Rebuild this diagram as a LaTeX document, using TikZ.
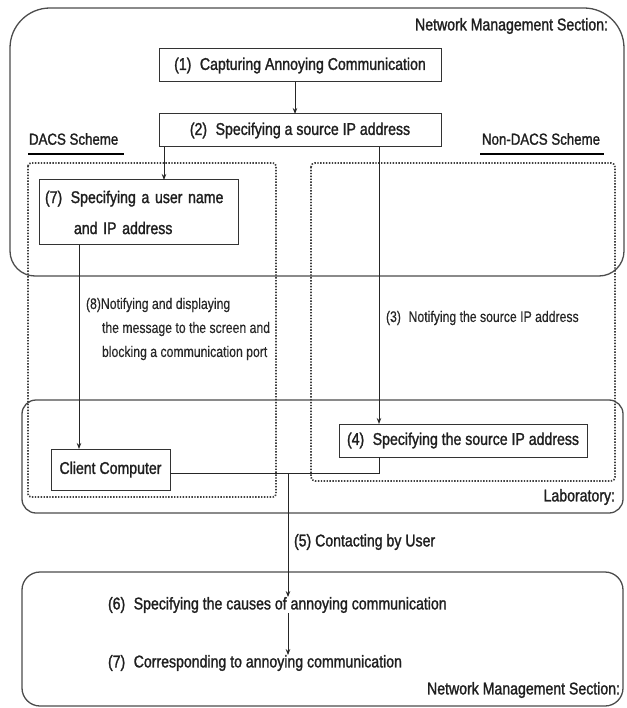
\documentclass[tikz,border=0pt]{standalone}
\usepackage{fontspec}
\setmainfont{Liberation Sans}
\newfontfamily\mainf[FakeStretch=0.83,FakeBold=1.4]{Liberation Sans}
\newfontfamily\labf[FakeStretch=0.80,FakeBold=0.4]{Liberation Sans}
\usetikzlibrary{arrows.meta}

\begin{document}
\begin{tikzpicture}[x=1pt,y=-1pt,
  every node/.style={inner sep=0pt, outer sep=0pt},
  txt/.style={font=\mainf\fontsize{17}{20}\selectfont, text=black!88},
  lab/.style={font=\labf\fontsize{15.3}{18}\selectfont, text=black!85},
  stepbox/.style={draw=black!80, line width=1pt, fill=white, txt},
  frame/.style={draw=black!70, line width=1.3pt},
  dotbox/.style={draw=black!75, line width=1.7pt, dash pattern=on 1.4pt off 1.5pt},
  conn/.style={draw=black!85, line width=0.9pt},
  arr/.style={conn, -{Stealth[length=6pt,width=4.5pt]}},
  uline/.style={draw=black, line width=2.4pt}]

\useasboundingbox (0,0) rectangle (626,708);

% section frames
\draw[frame] (10,140) [rounded corners=40pt] -- (10,8) -- (624,8) -- (624,140)
  [rounded corners=25pt] -- (624,276) -- (10,276) -- cycle;
\draw[frame, rounded corners=14pt] (22,400) rectangle (623,513);
\draw[frame, rounded corners=18pt] (22,572) rectangle (623,706);

% scheme areas
\draw[dotbox, rounded corners=3pt] (28,163) rectangle (276,497);
\draw[dotbox, rounded corners=4pt] (311,163) rectangle (615,481);

% headings
\node[txt, anchor=east] (nmstop) at (608,26) {Network Management Section:};
\node[txt, font=\mainf\fontsize{16}{18}\selectfont, anchor=west] (dacs) at (29,139) {DACS Scheme};
\node[txt, font=\mainf\fontsize{16}{18}\selectfont, anchor=west] (ndacs) at (482,139) {Non-DACS Scheme};
\draw[uline] (28,154) -- (124,154);
\draw[uline] (480,154) -- (604,154);
\node[txt, anchor=east] (labname) at (615,497) {Laboratory:};
\node[txt, anchor=east] (nmsbot) at (620,690) {Network Management Section:};

% steps
\node[stepbox, minimum width=282pt, minimum height=33pt] (cap) at (300,65.5)
  {(1)\enspace Capturing Annoying Communication};
\node[stepbox, minimum width=282pt, minimum height=33pt] (src) at (300,130.5)
  {(2)\enspace Specifying a source IP address};
\node[stepbox, anchor=north west, minimum width=199pt, minimum height=65pt,
  align=left, inner xsep=6pt, text width=187pt,
  font=\mainf\fontsize{17}{31}\selectfont] (user) at (39,180)
  {(7)\enspace Specifying a user name\\\hspace*{29pt}and IP address};
\node[stepbox, minimum width=119pt, minimum height=41pt] (client) at (110.5,469.5)
  {Client Computer};
\node[stepbox, minimum width=248pt, minimum height=33pt] (spec) at (463,440.5)
  {(4)\enspace Specifying the source IP address};
\node[txt, anchor=west] (contact) at (294,542) {(5) Contacting by User};
\node[txt, anchor=west] (cause) at (108,605)
  {(6)\enspace Specifying the causes of annoying communication};
\node[txt, anchor=west] (corr) at (108,663)
  {(7)\enspace Corresponding to annoying communication};

% connector labels
\node[lab, anchor=west] (l8a) at (86,305) {(8)Notifying and displaying};
\node[lab, anchor=west] (l8b) at (102,329) {the message to the screen and};
\node[lab, anchor=west] (l8c) at (102,353) {blocking a communication port};
\node[lab, anchor=west] (l3) at (386,318) {(3)\enspace Notifying the source IP address};

% connector columns
\coordinate (c7) at (164,0);
\coordinate (c3) at (379,0);
\coordinate (c8) at (79,0);
\coordinate (c5) at (288,0);
\coordinate (cj) at (0,473);

\draw[arr] ([xshift=-5pt]cap.south) -- ([xshift=-5pt]src.north);
\draw[arr] (src.south -| c7) -- (user.north -| c7);
\draw[arr] (src.south -| c3) -- (spec.north -| c3);
\draw[arr] (user.south -| c8) -- (client.north -| c8);
\draw[conn] (client.east |- cj) -- (c3 |- cj) -- (spec.south -| c3);
\draw[arr] (c5 |- cj) -- (cause.north -| c5);
\draw[arr] (cause.south -| c5) -- (corr.north -| c5);
\end{tikzpicture}
\end{document}
